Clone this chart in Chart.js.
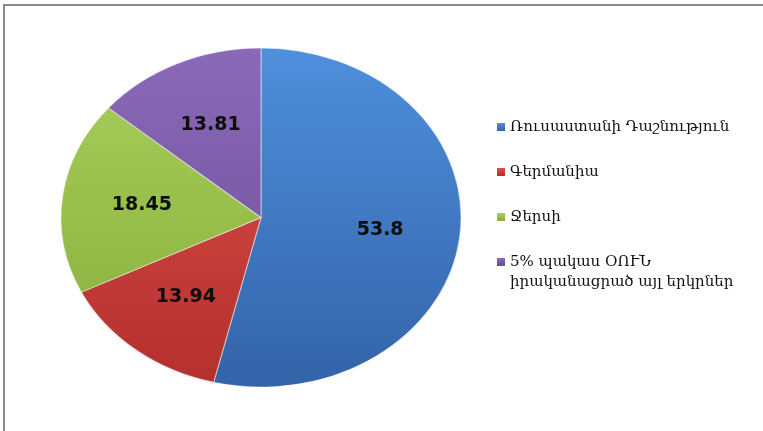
<!DOCTYPE html>
<html lang="hy">
<head>
    <meta charset="UTF-8">
    <title>ՕՈՒՆ ըստ երկրների</title>
    <script src="https://cdn.jsdelivr.net/npm/chart.js@4.4.1/dist/chart.umd.min.js"></script>
    <style>
        html, body {
            margin: 0;
            overflow: hidden;
            background-color: #ffffff;
        }
        .wrap {
            position: relative;
            width: 763px;
            height: 431px;
        }
        .frame {
            position: absolute;
            left: 3px;
            top: 4px;
            width: 770px;
            height: 440px;
            border-top: 2px solid #8a8a8a;
            border-left: 2px solid #8a8a8a;
            pointer-events: none;
        }
    </style>
</head>
<body>
<div class="wrap">
    <canvas id="pieChart" width="763" height="431"></canvas>
    <div class="frame"></div>
</div>

<script>
    const countries = [
        'Ռուսաստանի Դաշնություն',
        'Գերմանիա',
        'Ջերսի',
        ['5% պակաս ՕՈՒՆ', 'իրականացրած այլ երկրներ']
    ];
    const shares = [53.8, 13.94, 18.45, 13.81];
    const topColors = ['#4f8fdc', '#e0514b', '#a9d05c', '#8a69b9'];
    const bottomColors = ['#3363a8', '#b32f2d', '#86ad3a', '#6b4d96'];

    const stretchX = 1.18;  // the pie is an ellipse in the original

    function sliceFill(context) {
        const chart = context.chart;
        const area = chart.chartArea;
        if (!area) return topColors[context.dataIndex];
        const g = chart.ctx.createLinearGradient(0, area.top, 0, area.bottom);
        g.addColorStop(0, topColors[context.dataIndex]);
        g.addColorStop(1, bottomColors[context.dataIndex]);
        return g;
    }

    function pieCenter(chart) {
        const arc = chart.getDatasetMeta(0).data[0];
        return { x: arc.x, y: arc.y, r: arc.outerRadius };
    }

    const ellipsePlugin = {
        id: 'ellipse',
        beforeDatasetsDraw(chart) {
            const c = pieCenter(chart);
            const ctx = chart.ctx;
            ctx.save();
            ctx.translate(c.x, c.y);
            ctx.scale(stretchX, 1);
            ctx.translate(-c.x, -c.y);
        },
        afterDatasetsDraw(chart) {
            chart.ctx.restore();
        }
    };

    const valueLabels = {
        id: 'valueLabels',
        afterDraw(chart) {
            const ctx = chart.ctx;
            const c = pieCenter(chart);
            ctx.save();
            ctx.font = 'bold 19px "DejaVu Sans", Verdana, sans-serif';
            ctx.fillStyle = '#0d0d0d';
            ctx.textAlign = 'center';
            ctx.textBaseline = 'middle';
            chart.getDatasetMeta(0).data.forEach((arc, i) => {
                const mid = (arc.startAngle + arc.endAngle) / 2;
                const rr = arc.outerRadius * 0.6;
                const x = c.x + Math.cos(mid) * rr * stretchX;
                const y = c.y + Math.sin(mid) * rr;
                ctx.fillText(String(shares[i]), x, y);
            });
            ctx.restore();
        }
    };

    const sideLegend = {
        id: 'sideLegend',
        afterDraw(chart) {
            const ctx = chart.ctx;
            const left = 497;
            let y = 127;
            ctx.save();
            ctx.font = '15px "DejaVu Serif", "DejaVu Sans", serif';
            ctx.textBaseline = 'middle';
            ctx.textAlign = 'left';
            countries.forEach((name, i) => {
                const g = ctx.createLinearGradient(0, y - 4, 0, y + 4);
                g.addColorStop(0, topColors[i]);
                g.addColorStop(1, bottomColors[i]);
                ctx.fillStyle = g;
                ctx.fillRect(left, y - 4, 8, 8);
                ctx.fillStyle = '#111111';
                const lines = Array.isArray(name) ? name : [name];
                lines.forEach((t, k) => ctx.fillText(t, left + 13, y + k * 20));
                y += 45;
            });
            ctx.restore();
        }
    };

    new Chart(document.getElementById('pieChart'), {
        type: 'pie',
        data: {
            labels: countries,
            datasets: [{
                data: shares,
                backgroundColor: sliceFill,
                borderColor: 'rgba(255, 255, 255, 0.45)',
                borderWidth: 1
            }]
        },
        options: {
            responsive: false,
            animation: false,
            layout: {
                padding: { left: 91, right: 332, top: 47, bottom: 43 }
            },
            plugins: {
                legend: { display: false },
                tooltip: { enabled: false }
            }
        },
        plugins: [ellipsePlugin, valueLabels, sideLegend]
    });
</script>
</body>
</html>
